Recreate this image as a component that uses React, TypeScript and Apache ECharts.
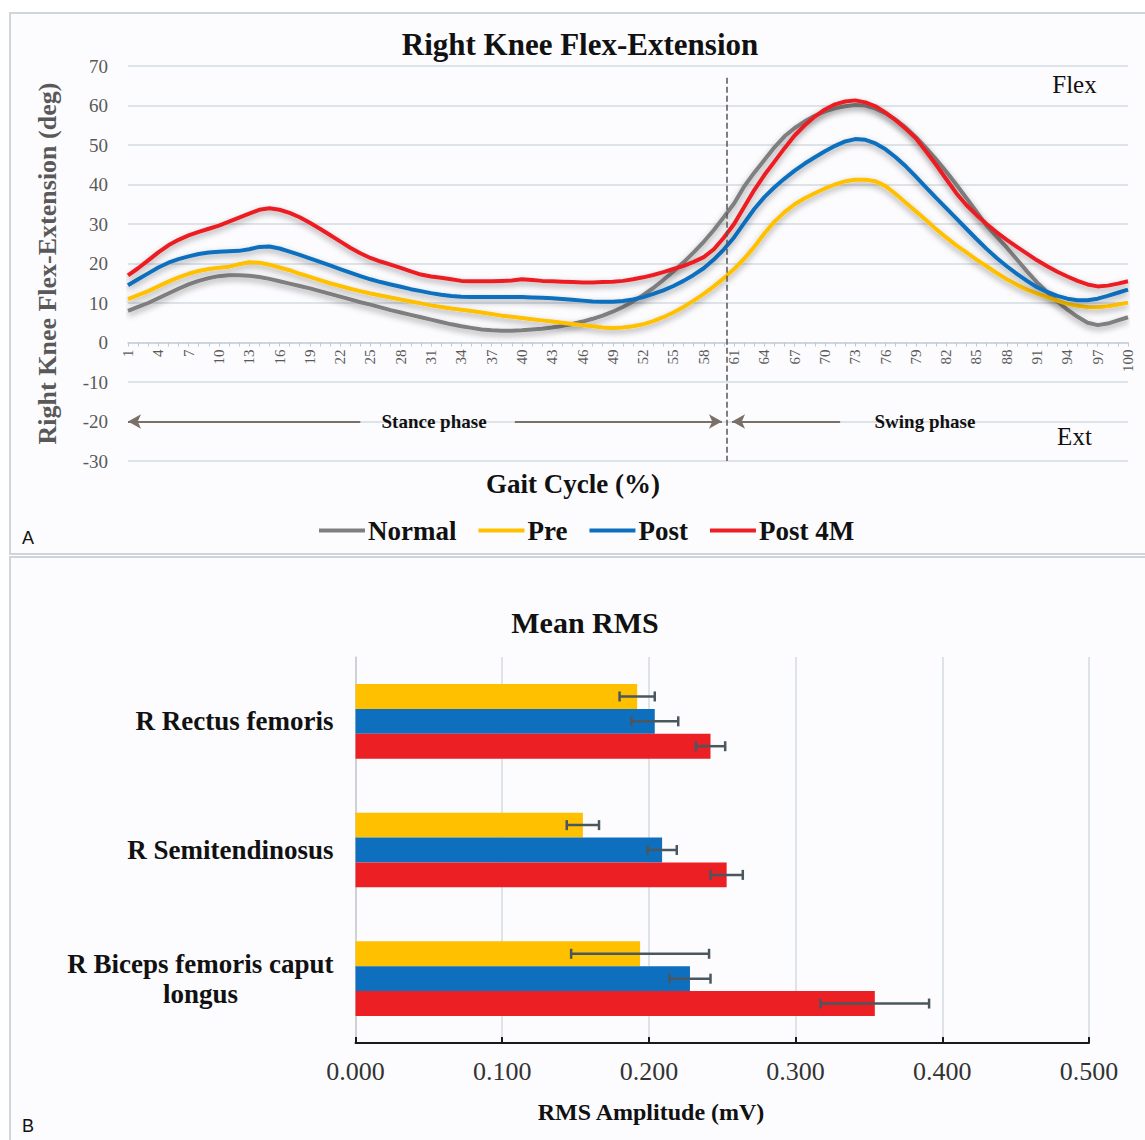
import React, { useEffect, useRef } from "react";
import * as echarts from "echarts";

const FONT = '"Liberation Serif", "Times New Roman", serif';

// ---- Panel A: knee flexion-extension over the gait cycle ----
const gaitCycle = Array.from({ length: 100 }, (_, i) => String(i + 1));
const yTicksA = { min: -30, max: 70, step: 10 };

const normal = [
  8.0, 9.0, 10.0, 11.2, 12.4, 13.6, 14.7, 15.6, 16.3, 16.8,
  17.0, 17.0, 16.9, 16.6, 16.1, 15.5, 14.9, 14.3, 13.7, 13.0,
  12.3, 11.6, 10.9, 10.2, 9.6, 8.9, 8.2, 7.6, 7.0, 6.4,
  5.8, 5.2, 4.6, 4.1, 3.7, 3.3, 3.1, 3.0, 3.0, 3.1,
  3.3, 3.5, 3.8, 4.2, 4.7, 5.3, 6.0, 6.8, 7.8, 9.0,
  10.4, 12.0, 13.8, 15.8, 18.0, 20.3, 22.8, 25.5, 28.5, 31.8,
  35.2, 39.5, 43.0, 46.2, 49.4, 52.2, 54.3, 56.0, 57.4, 58.5,
  59.3, 59.8, 60.1, 60.0, 59.2, 58.0, 56.4, 54.4, 52.0, 49.3,
  46.4, 43.3, 40.0, 36.6, 33.1, 29.6, 26.8, 24.0, 21.0, 18.0,
  15.2, 12.8, 10.4, 8.3, 6.5, 5.0, 4.4, 4.8, 5.6, 6.4,
];
const pre = [
  11.0, 12.0, 13.0, 14.2, 15.4, 16.5, 17.4, 18.1, 18.6, 18.9,
  19.2, 19.8, 20.3, 20.2, 19.7, 19.0, 18.3, 17.4, 16.6, 15.8,
  15.0, 14.3, 13.6, 13.0, 12.4, 11.9, 11.4, 10.9, 10.4, 9.9,
  9.4, 9.0, 8.6, 8.3, 8.0, 7.6, 7.2, 6.8, 6.5, 6.2,
  5.9, 5.6, 5.3, 5.0, 4.7, 4.4, 4.1, 3.8, 3.7, 3.8,
  4.1, 4.6, 5.4, 6.4, 7.6, 9.0, 10.6, 12.3, 14.2, 16.3,
  18.6, 21.2, 24.2, 27.6, 30.6, 33.0, 35.0, 36.5, 37.8, 39.0,
  40.0, 40.8, 41.2, 41.2, 40.8, 39.6, 37.6, 35.4, 33.2, 31.0,
  28.7, 26.6, 24.6, 22.8, 21.0, 19.3, 17.6, 16.0, 14.6, 13.4,
  12.4, 11.5, 10.6, 9.8, 9.3, 9.0, 8.9, 9.2, 9.6, 10.1,
];
const post = [
  14.5, 16.0, 17.5, 19.0, 20.2, 21.1, 21.8, 22.4, 22.8, 23.0,
  23.1, 23.2, 23.6, 24.2, 24.3, 23.8, 23.0, 22.2, 21.3, 20.4,
  19.5, 18.6, 17.7, 16.8, 16.0, 15.3, 14.7, 14.1, 13.5, 13.0,
  12.5, 12.1, 11.8, 11.6, 11.5, 11.5, 11.5, 11.5, 11.5, 11.5,
  11.4, 11.3, 11.2, 11.0, 10.8, 10.6, 10.4, 10.3, 10.3, 10.5,
  10.9, 11.5, 12.3, 13.2, 14.3, 15.6, 17.1, 18.8, 21.0, 23.6,
  26.6, 30.2, 33.8, 36.8, 39.3, 41.5, 43.5, 45.3, 46.9, 48.4,
  49.8, 50.9, 51.5, 51.3, 50.4, 48.9, 46.9, 44.6, 42.0, 39.3,
  36.6, 34.0, 31.4, 28.8, 26.2, 23.7, 21.4, 19.3, 17.4, 15.6,
  14.0, 12.8, 11.8, 11.1, 10.7, 10.7, 11.1, 11.8, 12.6, 13.4,
];
const post4M = [
  17.0, 18.8, 20.8, 22.8, 24.6, 26.0, 27.1, 28.0, 28.8, 29.6,
  30.6, 31.6, 32.6, 33.6, 34.0, 33.6, 32.8, 31.7, 30.3, 28.8,
  27.2, 25.6, 24.0, 22.6, 21.4, 20.5, 19.7, 18.9, 18.0, 17.2,
  16.7, 16.4, 16.0, 15.6, 15.5, 15.5, 15.5, 15.6, 15.7, 16.0,
  15.8, 15.6, 15.5, 15.4, 15.3, 15.2, 15.2, 15.3, 15.4, 15.6,
  16.0, 16.5, 17.1, 17.8, 18.6, 19.4, 20.4, 21.6, 23.6, 26.6,
  30.0, 34.3, 38.6, 42.4, 45.8, 49.2, 52.4, 55.0, 57.2, 59.0,
  60.3, 61.0, 61.3, 60.8, 59.8, 58.2, 56.3, 54.1, 51.7, 48.4,
  45.0, 41.4, 37.8, 34.8, 32.3, 30.0, 27.9, 26.0, 24.2, 22.5,
  20.8, 19.3, 17.9, 16.7, 15.6, 14.7, 14.2, 14.4, 14.9, 15.5,
];
const toeOff = 60.3; // stance / swing boundary (% gait cycle)
const phaseArrows = [
  [1, 24, "start"],
  [39.3, 59.8, "end"],
  [60.8, 71.5, "start"],
  [87.8, 100.4, "end"],
] as const;
const phaseLabels = [
  { name: "Stance phase", x: 31.3, y: -20 },
  { name: "Swing phase", x: 79.9, y: -20 },
];
const dirLabels = [
  { name: "Flex", x: 94.7, y: 65.3 },
  { name: "Ext", x: 94.7, y: -23.8 },
];

// ---- Panel B: mean RMS ----
const muscles = ["R Rectus femoris", "R Semitendinosus", "R Biceps femoris caput longus"];
const rmsTicks = { min: 0, max: 0.5, step: 0.1 };
const rmsPre = [0.192, 0.155, 0.194];
const rmsPreErr = [0.012, 0.011, 0.047];
const rmsPost = [0.204, 0.209, 0.228];
const rmsPostErr = [0.016, 0.010, 0.014];
const rmsPost4M = [0.242, 0.253, 0.354];
const rmsPost4MErr = [0.010, 0.011, 0.037];

const C_NORMAL = "#7f7f7f";
const C_PRE = "#FFC000";
const C_POST = "#0F6FBF";
const C_POST4M = "#EB1F24";
const BAR_CAT_GAP = 0.42;

const GRID_A = { left: 128, right: 17, top: 66, height: 395 };

export default function App() {
  const ref = useRef<HTMLDivElement>(null);
  useEffect(() => {
    document.body.style.margin = "0";
    const chart = echarts.init(ref.current!, undefined, { renderer: "svg" });

    // move the category axis up to the zero line of the value axis
    const zeroOffset = -(GRID_A.height * (0 - yTicksA.min)) / (yTicksA.max - yTicksA.min);

    const lineShadow = { shadowColor: "rgba(0,0,0,0.35)", shadowBlur: 6, shadowOffsetY: 3 };
    const mkLine = (name: string, data: number[], color: string) => ({
      name,
      type: "line",
      xAxisIndex: 0,
      yAxisIndex: 0,
      data,
      symbol: "none",
      itemStyle: { color },
      lineStyle: { width: 4, color, ...lineShadow },
      z: 3,
    });

    const arrowData = phaseArrows.map(([a, b, end]) => [
      { coord: [a, -20], symbol: end === "start" ? "arrow" : "none" },
      { coord: [b, -20], symbol: end === "end" ? "arrow" : "none" },
    ]);

    const errData: any[] = [];
    [
      [rmsPre, rmsPreErr],
      [rmsPost, rmsPostErr],
      [rmsPost4M, rmsPost4MErr],
    ].forEach(([m, e], s) => {
      m.forEach((v, c) => errData.push([v - e[c], c, v + e[c], s]));
    });

    const barSeries = (name: string, data: number[], color: string) => ({
      name,
      type: "bar",
      xAxisIndex: 2,
      yAxisIndex: 1,
      data,
      barGap: "0%",
      barCategoryGap: BAR_CAT_GAP * 100 + "%",
      itemStyle: { color },
    });

    const option: any = {
      animation: false,
      backgroundColor: "#ffffff",
      textStyle: { fontFamily: FONT },
      title: [
        {
          text: "Right Knee Flex-Extension",
          left: 580,
          top: 29,
          textAlign: "center",
          padding: 0,
          textStyle: { fontFamily: FONT, fontSize: 31, fontWeight: "bold", color: "#111" },
        },
        {
          text: "Mean RMS",
          left: 585,
          top: 607,
          textAlign: "center",
          padding: 0,
          textStyle: { fontFamily: FONT, fontSize: 30, fontWeight: "bold", color: "#111" },
        },
      ],
      legend: {
        data: ["Normal", "Pre", "Post", "Post 4M"],
        left: 314,
        top: 512,
        icon: "rect",
        itemWidth: 46,
        itemHeight: 4,
        itemGap: 22,
        selectedMode: false,
        textStyle: { fontFamily: FONT, fontSize: 27, fontWeight: "bold", color: "#111", padding: [0, 0, 0, -2] },
      },
      grid: [
        { ...GRID_A },
        { left: 355.5, right: 56, top: 657, height: 386 },
      ],
      xAxis: [
        {
          type: "category",
          gridIndex: 0,
          data: gaitCycle,
          boundaryGap: false,
          offset: zeroOffset,
          axisLine: { onZero: false, lineStyle: { color: "#c9d1d9", width: 1.5 } },
          axisTick: { show: true, interval: 0, length: 4, lineStyle: { color: "#c0c8d0" } },
          axisLabel: { interval: 2, rotate: 90, fontSize: 15, color: "#595959", margin: 7, fontFamily: FONT },
          splitLine: { show: false },
        },
        { type: "value", gridIndex: 0, min: 1, max: 100, show: false, axisLine: { onZero: false } },
        {
          type: "value",
          gridIndex: 1,
          min: rmsTicks.min,
          max: rmsTicks.max,
          interval: rmsTicks.step,
          axisLine: { show: true, lineStyle: { color: "#1a1a1a", width: 2 } },
          axisTick: { show: true, inside: true, length: 6, lineStyle: { color: "#1a1a1a", width: 2 } },
          axisLabel: {
            fontSize: 26,
            color: "#333",
            margin: 15,
            fontFamily: FONT,
            formatter: (v: number) => v.toFixed(3),
          },
          splitLine: { show: true, lineStyle: { color: "#d5dbe1", width: 1.5 } },
        },
      ],
      yAxis: [
        {
          type: "value",
          gridIndex: 0,
          min: yTicksA.min,
          max: yTicksA.max,
          interval: yTicksA.step,
          name: "Right Knee Flex-Extension (deg)",
          nameLocation: "middle",
          nameGap: 68,
          nameTextStyle: { fontFamily: FONT, fontSize: 26, fontWeight: "bold", color: "#595959" },
          axisLine: { show: false },
          axisTick: { show: false },
          axisLabel: { fontSize: 19, color: "#595959", margin: 20, fontFamily: FONT },
          splitLine: { show: true, lineStyle: { color: "#d5dbe1", width: 1.5 } },
        },
        {
          type: "category",
          gridIndex: 1,
          data: muscles,
          inverse: true,
          axisLine: { show: true, lineStyle: { color: "#c8cdd2", width: 1.5 } },
          axisTick: { show: false },
          axisLabel: {
            margin: 22,
            fontFamily: FONT,
            formatter: (v: string) =>
              v === "R Biceps femoris caput longus"
                ? "{c|R Biceps femoris caput}\n{c|longus}"
                : "{c|" + v + "}",
            rich: {
              c: { fontFamily: FONT, fontSize: 27, fontWeight: "bold", color: "#111", align: "center", lineHeight: 30 },
            },
          },
        },
      ],
      graphic: [
        {
          type: "rect",
          z: -100,
          shape: { x: 10, y: 13, width: 1140, height: 541 },
          style: { fill: "#fcfcfe", stroke: "#cfd5db", lineWidth: 2 },
        },
        {
          type: "rect",
          z: -100,
          shape: { x: 10, y: 557, width: 1140, height: 590 },
          style: { fill: "#fcfcfe", stroke: "#cfd5db", lineWidth: 2 },
        },
        {
          type: "text",
          x: 573,
          y: 484,
          style: {
            text: "Gait Cycle (%)",
            font: 'bold 27px "Liberation Serif", serif',
            fill: "#111",
            textAlign: "center",
            textVerticalAlign: "middle",
          },
        },
        {
          type: "text",
          x: 651,
          y: 1112,
          style: {
            text: "RMS Amplitude (mV)",
            font: 'bold 24px "Liberation Serif", serif',
            fill: "#111",
            textAlign: "center",
            textVerticalAlign: "middle",
          },
        },
        {
          type: "text",
          x: 22,
          y: 538,
          style: { text: "A", font: '18px "Liberation Sans", Arial, sans-serif', fill: "#111", textVerticalAlign: "middle" },
        },
        {
          type: "text",
          x: 22,
          y: 1126,
          style: { text: "B", font: '18px "Liberation Sans", Arial, sans-serif', fill: "#111", textVerticalAlign: "middle" },
        },
      ],
      series: [
        mkLine("Normal", normal, C_NORMAL),
        mkLine("Pre", pre, C_PRE),
        mkLine("Post", post, C_POST),
        mkLine("Post 4M", post4M, C_POST4M),
        {
          name: "annotations",
          type: "line",
          xAxisIndex: 1,
          yAxisIndex: 0,
          data: [],
          silent: true,
          markLine: {
            silent: true,
            symbol: ["none", "none"],
            symbolSize: [11, 13],
            label: { show: false },
            lineStyle: { color: "#7a7068", width: 2, type: "solid" },
            data: [
              [
                { coord: [toeOff, 67], lineStyle: { type: "dashed", color: "#555", width: 1.5 } },
                { coord: [toeOff, -30] },
              ],
              ...arrowData,
            ],
          },
          markPoint: {
            silent: true,
            symbol: "circle",
            symbolSize: 1,
            itemStyle: { color: "rgba(0,0,0,0)" },
            label: { show: true, position: "inside", formatter: "{b}", fontFamily: FONT, color: "#111" },
            data: [
              ...phaseLabels.map((p) => ({
                name: p.name,
                coord: [p.x, p.y],
                label: { fontSize: 19, fontWeight: "bold" },
              })),
              ...dirLabels.map((p) => ({
                name: p.name,
                coord: [p.x, p.y],
                label: { fontSize: 25, fontWeight: "normal" },
              })),
            ],
          },
        },
        barSeries("Pre", rmsPre, C_PRE),
        barSeries("Post", rmsPost, C_POST),
        barSeries("Post 4M", rmsPost4M, C_POST4M),
        {
          name: "errors",
          type: "custom",
          xAxisIndex: 2,
          yAxisIndex: 1,
          data: errData,
          encode: { x: [0, 2], y: 1 },
          z: 5,
          silent: true,
          renderItem: (params: any, api: any) => {
            const lo = api.value(0);
            const cat = api.value(1);
            const hi = api.value(2);
            const s = api.value(3);
            const p0 = api.coord([lo, cat]);
            const p1 = api.coord([hi, cat]);
            const band = api.size([0, 1])[1];
            const barH = (band * (1 - BAR_CAT_GAP)) / 3;
            const y = p0[1] + (s - 1) * barH;
            const cap = 5;
            const st = { stroke: "#4b575e", lineWidth: 2.5 };
            return {
              type: "group",
              children: [
                { type: "line", shape: { x1: p0[0], y1: y, x2: p1[0], y2: y }, style: st },
                { type: "line", shape: { x1: p0[0], y1: y - cap, x2: p0[0], y2: y + cap }, style: st },
                { type: "line", shape: { x1: p1[0], y1: y - cap, x2: p1[0], y2: y + cap }, style: st },
              ],
            };
          },
        },
      ],
    };

    chart.setOption(option);
    return () => chart.dispose();
  }, []);

  return <div ref={ref} style={{ width: 1145, height: 1140 }} />;
}
